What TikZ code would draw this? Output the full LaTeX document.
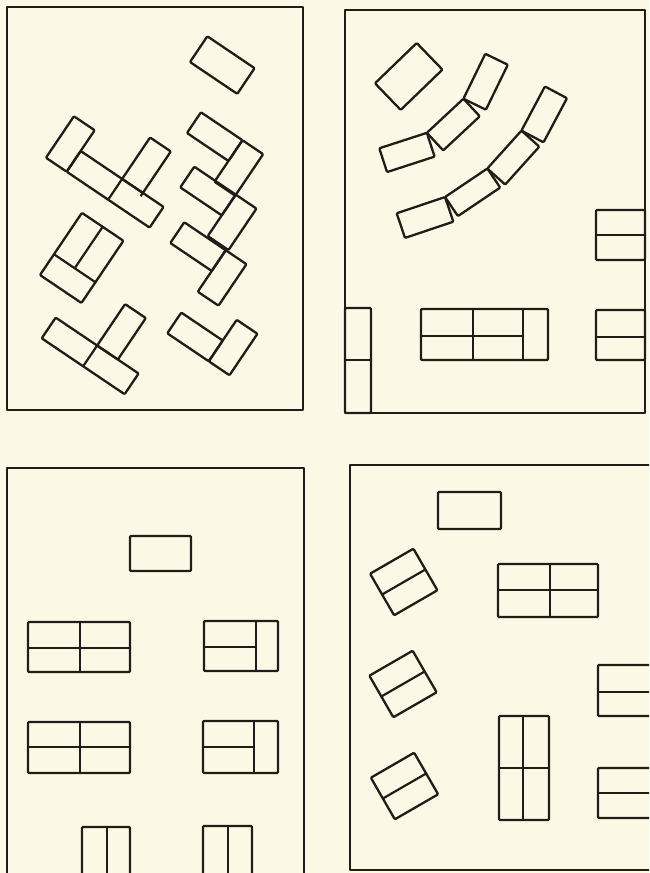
\documentclass[tikz,border=0pt]{standalone}
\definecolor{paper}{RGB}{251,249,229}
\definecolor{ink}{RGB}{32,28,24}
\begin{document}
\begin{tikzpicture}[x=1pt,y=1pt,
  frame/.style={draw=ink,line width=2.3pt,line join=round},
  tbl/.style={draw=ink,line width=2.3pt,line join=round,rounded corners=1pt},
  seg/.style={draw=ink,line width=2.2pt}]
\useasboundingbox (0,0) rectangle (649,-873);
\fill[paper] (0,0) rectangle (649,-873);
\begin{scope}
\clip (0,0) rectangle (649,-873);
% ---------- panel frames ----------
\draw[frame] (7,-7) rectangle (303,-410);
\draw[frame] (345,-10) rectangle (645,-413);
\draw[frame] (7,-890) -- (7,-468) -- (304,-468) -- (304,-890);
\draw[frame] (670,-465) -- (350,-465) -- (350,-870) -- (670,-870);

% ---------- panel 1 (rotated groups) ----------
\begin{scope}[shift={(190,-62)},rotate=-34]
  \draw[tbl] (0,0) rectangle (57,31);
\end{scope}
% group A
\begin{scope}[shift={(66.7,-171.7)},rotate=-34]
  \draw[tbl] (0,0) rectangle (100,25);
  \draw[seg] (50,0) -- (50,25);
  \draw[tbl] (-25,0) rectangle (0,50);
  \draw[tbl] (50,25) rectangle (75,75);
  \draw[seg] (75,25) -- (75,21);
\end{scope}
% right chain
\foreach \ox/\oy in {187/133, 180.3/187.4, 170.3/243}{
  \begin{scope}[shift={(\ox,-\oy)},rotate=-34]
    \draw[tbl] (0,0) rectangle (50,25);
    \draw[tbl] (50,-25) rectangle (75,25);
  \end{scope}
}
% group C
\begin{scope}[shift={(40,-275)},rotate=-34]
  \draw[tbl] (0,0) rectangle (50,75);
  \draw[seg] (0,25) -- (50,25);
  \draw[seg] (25,25) -- (25,75);
\end{scope}
% group D
\begin{scope}[shift={(41.7,-338.3)},rotate=-34]
  \draw[tbl] (0,0) rectangle (100,25);
  \draw[seg] (50,0) -- (50,25);
  \draw[tbl] (50,25) rectangle (75,75);
\end{scope}
% group E
\begin{scope}[shift={(167.3,-333.3)},rotate=-34]
  \draw[tbl] (0,0) rectangle (50,25);
  \draw[tbl] (50,0) rectangle (75,50);
\end{scope}

% ---------- panel 2 ----------
\begin{scope}[shift={(375,-83.3)},rotate=44]
  \draw[tbl] (0,0) rectangle (58,-37);
\end{scope}
% inner arc
\coordinate (ia) at (379.3,-148.3);
\begin{scope}[shift={(ia)},rotate=18]
  \draw[tbl] (0,0) rectangle (50,-25); \coordinate (ib) at (50,0);
\end{scope}
\begin{scope}[shift={(ib)},rotate=43]
  \draw[tbl] (0,0) rectangle (50,-24); \coordinate (ic) at (50,0);
\end{scope}
\begin{scope}[shift={(ic)},rotate=64]
  \draw[tbl] (0,0) rectangle (50,-25);
\end{scope}
% outer arc
\coordinate (oa) at (396.7,-213.3);
\begin{scope}[shift={(oa)},rotate=18.6]
  \draw[tbl] (0,0) rectangle (51,-26); \coordinate (ob) at (51,0);
\end{scope}
\begin{scope}[shift={(ob)},rotate=34]
  \draw[tbl] (0,0) rectangle (51,-23); \coordinate (oc) at (51,0);
\end{scope}
\begin{scope}[shift={(oc)},rotate=48]
  \draw[tbl] (0,0) rectangle (51,-24); \coordinate (od) at (51,0);
\end{scope}
\begin{scope}[shift={(od)},rotate=62]
  \draw[tbl] (0,0) rectangle (50,-25);
\end{scope}
% right-hand groups
\draw[tbl] (596,-210) rectangle (645,-260);
\draw[seg] (596,-235) -- (645,-235);
\draw[tbl] (596,-310) rectangle (645,-360);
\draw[seg] (596,-336.7) -- (645,-336.7);
% bottom centre group
\draw[tbl] (421,-309) rectangle (548,-360);
\draw[seg] (473,-309) -- (473,-360);
\draw[seg] (523,-309) -- (523,-360);
\draw[seg] (421,-336) -- (523,-336);
% bottom-left group
\draw[tbl] (345,-308) rectangle (371,-413);
\draw[seg] (345,-360) -- (371,-360);

% ---------- panel 3 ----------
\draw[tbl] (130,-536) rectangle (191,-571);
\draw[tbl] (28,-622) rectangle (130,-672);
\draw[seg] (80,-622) -- (80,-672);
\draw[seg] (28,-648) -- (130,-648);
\draw[tbl] (204,-621) rectangle (278,-671);
\draw[seg] (256,-621) -- (256,-671);
\draw[seg] (204,-647) -- (256,-647);
\draw[tbl] (28,-722) rectangle (130,-773);
\draw[seg] (80,-722) -- (80,-773);
\draw[seg] (28,-747) -- (130,-747);
\draw[tbl] (203,-721) rectangle (278,-773);
\draw[seg] (254,-721) -- (254,-773);
\draw[seg] (203,-747) -- (254,-747);
\draw[tbl] (82,-890) -- (82,-827) -- (130,-827) -- (130,-890);
\draw[seg] (107,-827) -- (107,-890);
\draw[tbl] (203,-890) -- (203,-826) -- (252,-826) -- (252,-890);
\draw[seg] (228,-826) -- (228,-890);

% ---------- panel 4 ----------
\draw[tbl] (438,-492) rectangle (501,-529);
\draw[tbl] (498,-564) rectangle (598,-617);
\draw[seg] (550,-564) -- (550,-617);
\draw[seg] (498,-590) -- (598,-590);
\foreach \cx/\cy in {403.75/582, 403/684, 404.5/786}{
  \begin{scope}[shift={(\cx,-\cy)},rotate=30]
    \draw[tbl] (-25,-24) rectangle (25,24);
    \draw[seg] (-25,0) -- (25,0);
  \end{scope}
}
\draw[tbl] (499,-716) rectangle (549,-820);
\draw[seg] (523,-716) -- (523,-820);
\draw[seg] (499,-768) -- (549,-768);
\draw[tbl] (670,-665) -- (598,-665) -- (598,-716) -- (670,-716);
\draw[seg] (598,-692) -- (670,-692);
\draw[tbl] (670,-768) -- (598,-768) -- (598,-818) -- (670,-818);
\draw[seg] (598,-793) -- (670,-793);
\end{scope}
\end{tikzpicture}
\end{document}
